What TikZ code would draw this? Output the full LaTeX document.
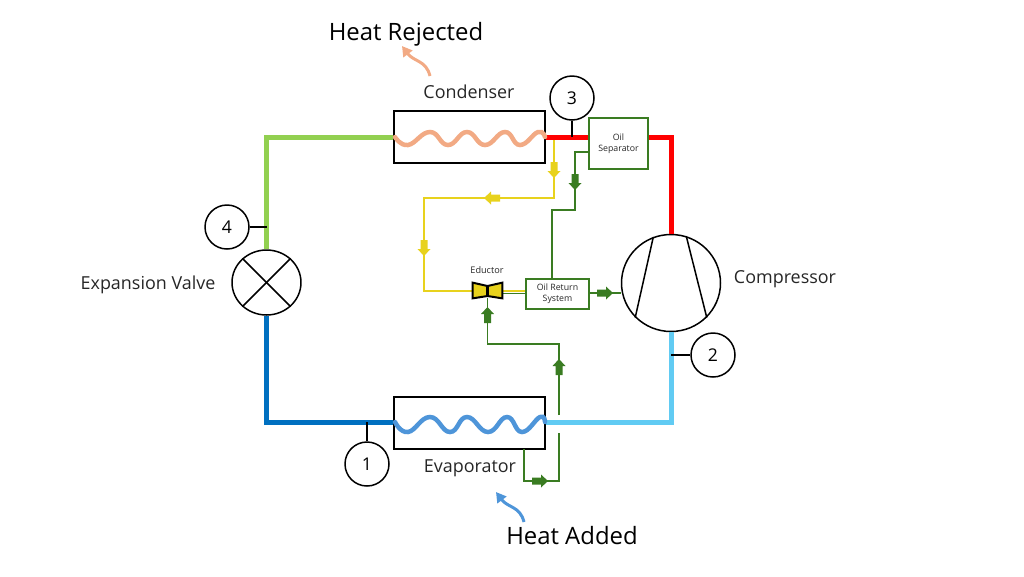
\documentclass[tikz,border=0pt]{standalone}
\usepackage{fontspec}
\setmainfont{Open Sans}
\usetikzlibrary{arrows.meta,calc,shapes.geometric}

\definecolor{coilhot}{HTML}{F2AA84}
\definecolor{coilcold}{HTML}{4E95D9}
\definecolor{pipegreen}{HTML}{92D050}
\definecolor{pipeblue}{HTML}{0070C0}
\definecolor{pipesky}{HTML}{61CBF3}
\definecolor{oilgreen}{HTML}{3A7C22}
\definecolor{bleedyellow}{HTML}{E8D21D}
\definecolor{labelgrey}{HTML}{262626}

\tikzset{
	hx/.style={draw=black, line width=.03cm, minimum width=3.02cm, minimum height=1.04cm, inner sep=0pt},
	oilbox/.style={draw=oilgreen, line width=.03cm, inner sep=0pt, align=center, font=\fontsize{5}{6.2}\selectfont, text=labelgrey},
	statept/.style={draw=black, circle, line width=.03cm, minimum size=.88cm, inner sep=0pt, fill=white, font=\fontsize{10}{12}\selectfont},
	machine/.style={draw=black, ellipse, line width=.03cm, inner sep=0pt, fill=white},
	pipe/.style={line width=.1cm},
	oilline/.style={draw=oilgreen, line width=.03cm},
	bleedline/.style={draw=bleedyellow, line width=.03cm},
	coil/.style={line width=.09cm, line cap=round},
	leader/.style={draw=black, line width=.03cm},
	caption/.style={text=labelgrey, font=\fontsize{10.2}{12}\selectfont, inner sep=0pt},
	bigcaption/.style={text=black, font=\fontsize{13.6}{16}\selectfont, inner sep=0pt},
	heatflow/.style={line width=.06cm, -{Triangle[length=.2cm, width=.22cm]}},
	flowmark/.pic={\path[pic actions] (-8, -3.5) -- (1, -3.5) -- (1, -6.5) -- (8, 0) -- (1, 6.5) -- (1, 3.5) -- (-8, 3.5) -- cycle;}
}

\begin{document}
\begin{tikzpicture}[x=.02cm, y=-.02cm]
	\useasboundingbox (0, 0) rectangle (1024, 576);

	\node[hx] (cond) at (469.5, 137) {};
	\node[hx] (evap) at (469.5, 423) {};
	\node[oilbox, minimum width=1.18cm, minimum height=1.02cm] (sep) at (618.5, 143.5) {Oil\\Separator};
	\node[oilbox, minimum width=1.26cm, minimum height=.6cm] (ret) at (557.5, 294) {Oil Return\\System};
	\node[minimum width=.58cm, minimum height=.3cm, inner sep=0pt] (educ) at (487.5, 290.5) {};

	\coordinate (tap) at (554, 137);
	\coordinate (bleed1) at (554, 198);
	\coordinate (bleed2) at (424, 198);
	\coordinate (bleed3) at (424, 291);
	\coordinate (sepout) at (589, 152);
	\coordinate (oil1) at (575, 152);
	\coordinate (oil2) at (575, 210);
	\coordinate (oil3) at (552, 210);
	\coordinate (oil4) at (552, 279);
	\coordinate (evapout) at (524, 449);
	\coordinate (low1) at (524, 481);
	\coordinate (low2) at (559, 481);
	\coordinate (low3) at (559, 433);
	\coordinate (low4) at (559, 415);
	\coordinate (low5) at (559, 344);
	\coordinate (low6) at (487.5, 344);

	% bleed and oil lines
	\draw[bleedline] (tap) -- (bleed1) -- (bleed2) -- (bleed3) -- (educ.west |- bleed3);
	\draw[bleedline] (educ.east |- bleed3) -- (ret.west |- bleed3);
	\draw[oilline] (sepout) -- (oil1) -- (oil2) -- (oil3) -- (oil4);
	\draw[oilline] (educ.east |- 0, 293.5) -- (ret.west |- 0, 293.5);
	\draw[oilline] (ret.east |- 0, 293) -- (621, 293);
	\draw[oilline] (evapout) -- (low1) -- (low2) -- (low3);
	\draw[oilline] (low4) -- (low5) -- (low6) -- (educ.south);

	\node[machine, minimum width=1.98cm, minimum height=1.94cm] (comp) at (671, 283) {};
	\node[machine, minimum width=1.38cm, minimum height=1.3cm] (valve) at (266.5, 282.5) {};

	% refrigerant loop
	\draw[pipe, pipegreen] (cond.west) -| (valve.north);
	\draw[pipe, pipeblue] (valve.south) |- (evap.west |- 0, 422);
	\draw[pipe, red] (cond.east) -- (sep.west |- cond.east);
	\draw[pipe, red] (sep.east |- cond.east) -| (comp.north);
	\draw[pipe, pipesky] (comp.south) |- (evap.east |- 0, 422);

	\pic[fill=bleedyellow, rotate=-90] at (554, 170) {flowmark};
	\pic[fill=bleedyellow, rotate=180] at (492, 198) {flowmark};
	\pic[fill=bleedyellow, rotate=-90] at (424, 248) {flowmark};
	\pic[fill=oilgreen, rotate=-90] at (575, 182) {flowmark};
	\pic[fill=oilgreen] at (605, 293) {flowmark};
	\pic[fill=oilgreen, rotate=90] at (487.5, 315) {flowmark};
	\pic[fill=oilgreen, rotate=90] at (559, 367) {flowmark};
	\pic[fill=oilgreen] at (540, 481) {flowmark};

	% coils
	\draw[coil, coilhot] plot[smooth, tension=.8] coordinates {(395, 137) (408, 145) (430, 132) (448, 145) (467, 132) (485, 145) (505, 132) (520, 145) (538, 132) (545, 137)};
	\draw[coil, coilcold] plot[smooth, tension=.8] coordinates {(395, 422) (408, 432) (430, 417) (450, 432) (467, 417) (488, 432) (507, 417) (522, 432) (540, 417) (545, 422)};

	% compressor and valve
	\draw[black, line width=.03cm] (comp.111) -- (comp.224);
	\draw[black, line width=.03cm] (comp.72) -- (comp.-44);
	\draw[black, line width=.03cm] (valve.45) -- (valve.225);
	\draw[black, line width=.03cm] (valve.135) -- (valve.-45);

	% eductor
	\filldraw[fill=bleedyellow, draw=black, line width=.04cm] (educ.north west) -- (educ.north |- 0, 286) -- (educ.north east) -- (educ.south east) -- (educ.south |- 0, 296) -- (educ.south west) -- cycle;
	\draw[black, line width=.06cm] (educ.north |- 0, 286) -- (educ.south |- 0, 296);

	% state points
	\node[statept] (pt3) at (572, 98) {3};
	\node[statept] (pt4) at (227, 227) {4};
	\node[statept] (pt2) at (713, 355) {2};
	\node[statept] (pt1) at (367, 464) {1};
	\draw[leader] (pt3.south) -- (pt3.south |- cond.east);
	\draw[leader] (pt4.east) -- (valve.north |- pt4.east);
	\draw[leader] (pt2.west) -- (comp.south |- pt2.west);
	\draw[leader] (pt1.north) -- (pt1.north |- 0, 422);

	% heat arrows
	\coordinate (rejfrom) at (430, 76);
	\coordinate (rejto) at (402, 46);
	\coordinate (addfrom) at (524, 522);
	\coordinate (addto) at (496, 492);
	\draw[heatflow, coilhot] (rejfrom) .. controls (426, 60) and (414, 62) .. (rejto);
	\draw[heatflow, coilcold] (addfrom) .. controls (520, 506) and (508, 508) .. (addto);

	\node[bigcaption] (rejected) at (406, 34) {Heat Rejected};
	\node[bigcaption] (added) at (572, 536) {Heat Added};
	\node[caption] (condname) at (469, 92) {Condenser};
	\node[caption] (evapname) at (470, 468) {Evaporator};
	\node[caption] (valvename) at (148, 285) {Expansion Valve};
	\node[caption] (compname) at (785, 279) {Compressor};
	\node[text=labelgrey, font=\fontsize{5.2}{6}\selectfont, inner sep=0pt] (educname) at (487, 270) {Eductor};
\end{tikzpicture}
\end{document}
